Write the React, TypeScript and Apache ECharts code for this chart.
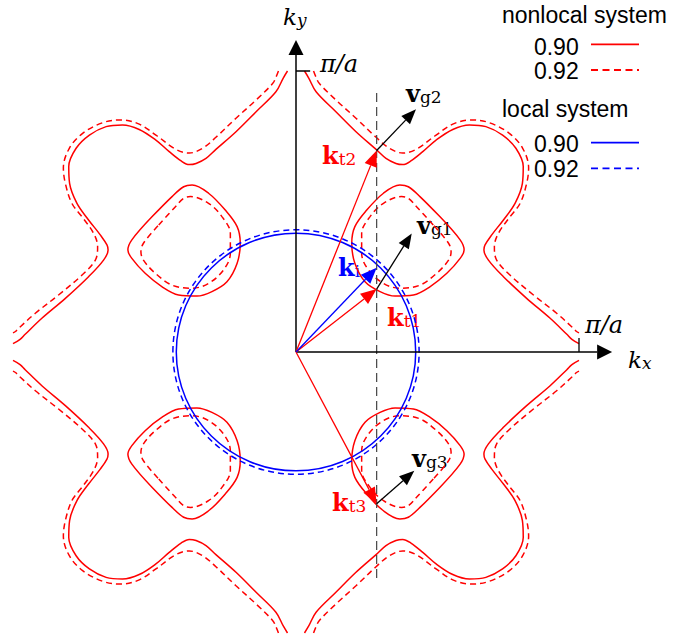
import React, { useEffect, useRef } from "react";
import * as echarts from "echarts";

// Units: kx, ky in π/a. First-quadrant traces (mirrored into the other quadrants).
const outerNonlocal090: [number, number][] = [
  [0.03, 1.0], [0.045, 0.975], [0.071, 0.926], [0.141, 0.855], [0.212, 0.784],
  [0.283, 0.721], [0.318, 0.689], [0.353, 0.671], [0.377, 0.667], [0.406, 0.68],
  [0.448, 0.713], [0.495, 0.754], [0.554, 0.792], [0.613, 0.808], [0.671, 0.802],
  [0.73, 0.772], [0.777, 0.725], [0.803, 0.66], [0.8, 0.6], [0.774, 0.529],
  [0.733, 0.47], [0.691, 0.416], [0.668, 0.381], [0.664, 0.363], [0.68, 0.327],
  [0.733, 0.268], [0.815, 0.191], [0.898, 0.12], [0.957, 0.063], [0.975, 0.045],
  [1.0, 0.03],
];
const outerNonlocal092: [number, number][] = [
  [0.062, 1.0], [0.07, 0.98], [0.082, 0.956], [0.141, 0.897], [0.212, 0.832],
  [0.283, 0.764], [0.33, 0.725], [0.377, 0.708], [0.424, 0.721], [0.495, 0.772],
  [0.554, 0.811], [0.618, 0.826], [0.683, 0.816], [0.754, 0.778], [0.801, 0.725],
  [0.822, 0.655], [0.815, 0.6], [0.792, 0.529], [0.756, 0.481], [0.715, 0.422],
  [0.701, 0.375], [0.709, 0.327], [0.756, 0.274], [0.839, 0.203], [0.921, 0.138],
  [0.974, 0.09], [0.99, 0.074], [1.0, 0.068],
];
const pocketNonlocal090: [number, number][] = [
  [0.509, 0.481], [0.438, 0.553], [0.397, 0.588], [0.367, 0.594], [0.309, 0.565],
  [0.25, 0.505], [0.208, 0.446], [0.197, 0.387], [0.208, 0.316], [0.244, 0.25],
  [0.297, 0.215], [0.35, 0.199], [0.415, 0.203], [0.473, 0.232], [0.533, 0.28],
  [0.58, 0.333], [0.594, 0.363], [0.58, 0.399], [0.509, 0.481],
];
const pocketNonlocal092: [number, number][] = [
  [0.485, 0.452], [0.426, 0.517], [0.397, 0.547], [0.373, 0.553], [0.309, 0.529],
  [0.261, 0.481], [0.232, 0.422], [0.232, 0.351], [0.256, 0.292], [0.309, 0.244],
  [0.367, 0.227], [0.438, 0.238], [0.497, 0.28], [0.539, 0.327], [0.548, 0.357],
  [0.539, 0.387], [0.485, 0.452],
];
// local system: circles (radius in π/a)
const localRadius090 = 0.423;
const localRadius092 = 0.435;

// dashed scan line
const scanLine: [number, number][] = [[0.285, 0.922], [0.285, -0.811]];

// vectors [x0, y0, x1, y1]
const kTransmitted: number[][] = [
  [0, 0, 0.285, 0.717], // k_t2
  [0, 0, 0.285, 0.224], // k_t1
  [0, 0, 0.285, -0.54], // k_t3
];
const kIncident: number[][] = [[0, 0, 0.285, 0.3]];
const vGroup: number[][] = [
  [0.285, 0.717, 0.424, 0.864], // v_g2
  [0.285, 0.224, 0.409, 0.422], // v_g1
  [0.285, -0.54, 0.418, -0.423], // v_g3
];
const axesArrows: number[][] = [
  [0, 0, 1.117, 0],
  [0, 0, 0, 1.11],
];
const tickX: [number, number][] = [[1, 0], [1, 0.05]];
const tickY: [number, number][] = [[0, 1], [0.05, 1]];

const QUADS: [number, number][] = [[1, 1], [-1, 1], [-1, -1], [1, -1]];
const mirror = (pts: [number, number][], sx: number, sy: number) =>
  pts.map(([x, y]) => [x * sx, y * sy]);

const RED = "#ff0000";
const BLUE = "#0000ff";

function arrowRenderer(color: string, width: number, headLen: number, headW: number) {
  return (_params: any, api: any) => {
    const a = api.coord([api.value(0), api.value(1)]);
    const b = api.coord([api.value(2), api.value(3)]);
    const dx = b[0] - a[0];
    const dy = b[1] - a[1];
    const len = Math.hypot(dx, dy) || 1;
    const ux = dx / len;
    const uy = dy / len;
    const bx = b[0] - ux * headLen;
    const by = b[1] - uy * headLen;
    const nx = (-uy * headW) / 2;
    const ny = (ux * headW) / 2;
    return {
      type: "group",
      children: [
        { type: "line", shape: { x1: a[0], y1: a[1], x2: bx, y2: by }, style: { stroke: color, lineWidth: width } },
        {
          type: "polygon",
          shape: { points: [[b[0], b[1]], [bx + nx, by + ny], [bx - nx, by - ny]] },
          style: { fill: color },
        },
      ],
    };
  };
}

function circleRenderer(color: string, dash: number[] | null) {
  return (_params: any, api: any) => {
    const c = api.coord([api.value(0), api.value(1)]);
    const r = api.value(2);
    const s = api.size([r, r]);
    return {
      type: "ellipse",
      shape: { cx: c[0], cy: c[1], rx: s[0], ry: s[1] },
      style: { fill: "none", stroke: color, lineWidth: 1.5, lineDash: dash || undefined },
    };
  };
}

const SERIF = '"DejaVu Serif", "Liberation Serif", serif';
const SANS = '"Liberation Sans", Arial, sans-serif';

const txt = (text: string, x: number, y: number, font: string, fill = "#000", align = "left") => ({
  type: "text",
  x,
  y,
  silent: true,
  style: {
    text,
    font,
    fill,
    align,
    verticalAlign: "middle",
    textAlign: align,
    textVerticalAlign: "middle",
  },
});

// main symbol with subscript as one rich text
const sym = (
  main: string,
  sub: string,
  x: number,
  y: number,
  fill: string,
  mainFont: string,
  subFont: string,
  mainLH: number,
  subLH: number
) => ({
  type: "text",
  x,
  y,
  silent: true,
  style: {
    text: `{m|${main}}{s|${sub}}`,
    fill,
    align: "left",
    verticalAlign: "middle",
    textAlign: "left",
    textVerticalAlign: "middle",
    rich: {
      m: { font: mainFont, fill, lineHeight: mainLH, verticalAlign: "bottom" },
      s: { font: subFont, fill, lineHeight: subLH, verticalAlign: "bottom" },
    },
  },
});

const seg = (x1: number, y1: number, x2: number, y2: number, stroke: string, dash?: number[]) => ({
  type: "line",
  shape: { x1, y1, x2, y2 },
  style: { stroke, lineWidth: 1.8, lineDash: dash },
});

export default function App() {
  const ref = useRef<HTMLDivElement>(null);
  useEffect(() => {
    if (!ref.current) return;
    const chart = echarts.init(ref.current, null, { renderer: "svg" });
    const series: any[] = [];
    const contour = (pts: [number, number][], dashed: boolean) => {
      QUADS.forEach(([sx, sy]) =>
        series.push({
          type: "line",
          data: mirror(pts, sx, sy),
          showSymbol: false,
          smooth: 0.35,
          silent: true,
          lineStyle: { color: RED, width: 1.5, type: dashed ? [6, 4] : "solid" },
          z: 2,
        })
      );
    };
    contour(outerNonlocal090, false);
    contour(outerNonlocal092, true);
    contour(pocketNonlocal090, false);
    contour(pocketNonlocal092, true);

    series.push({
      type: "custom",
      renderItem: circleRenderer(BLUE, null),
      data: [[0, 0, localRadius090]],
      silent: true,
      z: 3,
    });
    series.push({
      type: "custom",
      renderItem: circleRenderer(BLUE, [6, 4]),
      data: [[0, 0, localRadius092]],
      silent: true,
      z: 3,
    });
    series.push({
      type: "line",
      data: scanLine,
      showSymbol: false,
      silent: true,
      lineStyle: { color: "#444", width: 1.2, type: [9, 5] },
      z: 4,
    });
    series.push({ type: "line", data: tickX, showSymbol: false, silent: true, lineStyle: { color: "#000", width: 1.3 }, z: 5 });
    series.push({ type: "line", data: tickY, showSymbol: false, silent: true, lineStyle: { color: "#000", width: 1.3 }, z: 5 });
    const arrowSeries = (data: number[][], color: string, w: number, hl: number, hw: number) => ({
      type: "custom",
      renderItem: arrowRenderer(color, w, hl, hw),
      data,
      dimensions: ["x0", "y0", "x1", "y1"],
      encode: { x: [0, 2], y: [1, 3] },
      silent: true,
      clip: false,
      z: 6,
    });
    series.push(arrowSeries(axesArrows, "#000", 1.5, 15, 15));
    series.push(arrowSeries(kTransmitted, RED, 1.3, 16, 13));
    series.push(arrowSeries(kIncident, BLUE, 1.3, 16, 13));
    series.push(arrowSeries(vGroup, "#000", 1.3, 15, 12));

    const B = `bold 24px ${SERIF}`;
    const S = `17px ${SERIF}`;
    const I = `italic 23px ${SERIF}`;
    const IS = `italic 17px ${SERIF}`;
    const PI = `italic 24px ${SERIF}`;
    const L = `23px ${SANS}`;

    const vec = (m: string, s: string, x: number, y: number, fill = "#000") =>
      sym(m, s, x, y, fill, B, S, 32, 16);

    const graphic: any[] = [
      // axis labels
      sym("k", "y", 283, 14, "#000", I, IS, 28, 14),
      txt("π/a", 320, 63.6, PI),
      sym("k", "x", 628, 357, "#000", I, IS, 28, 14),
      txt("π/a", 585, 324.6, PI),
      // vector labels
      vec("k", "t2", 322, 151.6, RED),
      vec("v", "g2", 406, 89.6),
      vec("k", "i", 338, 263.6, BLUE),
      vec("v", "g1", 417, 221.6),
      vec("k", "t1", 387, 313.6, RED),
      vec("v", "g3", 412, 454.6),
      vec("k", "t3", 332, 498.6, RED),
      // legend
      txt("nonlocal system", 502, 15.4, L),
      txt("0.90", 578.7, 46.6, L, "#000", "right"),
      txt("0.92", 578.7, 71, L, "#000", "right"),
      txt("local system", 502, 109, L),
      txt("0.90", 578.7, 143.5, L, "#000", "right"),
      txt("0.92", 578.7, 168.5, L, "#000", "right"),
      seg(591, 44.3, 639, 44.3, RED),
      seg(591, 70, 639, 70, RED, [7, 4.5]),
      seg(591, 142.7, 639, 142.7, BLUE),
      seg(591, 168.3, 639, 168.3, BLUE, [7, 4.5]),
    ];

    chart.setOption({
      animation: false,
      backgroundColor: "#fff",
      grid: { left: 13, right: 41.4, top: 28.85, bottom: 8 },
      xAxis: { type: "value", min: -1, max: 1.2, show: false },
      yAxis: { type: "value", min: -1, max: 1.15, show: false },
      series,
      graphic,
    });
    return () => chart.dispose();
  }, []);
  return <div ref={ref} style={{ position: "absolute", left: 0, top: 0, width: 677, height: 641 }} />;
}
